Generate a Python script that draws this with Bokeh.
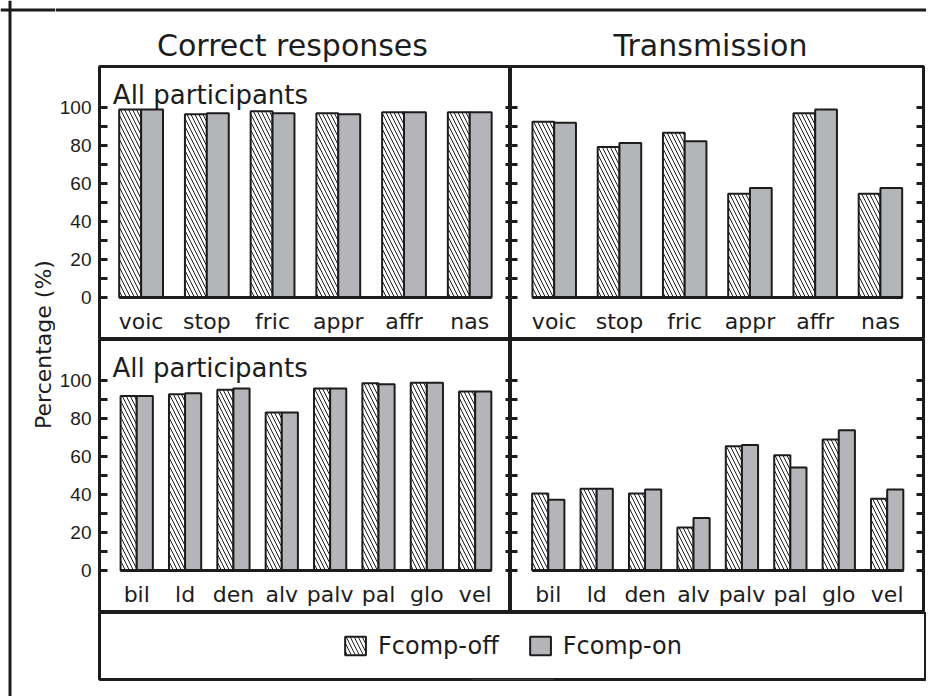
import math
from bokeh.plotting import figure
from bokeh.layouts import row, column
from bokeh.models import (Range1d, FixedTicker, LinearAxis, Label, Span, Legend,
                          LegendItem, ColumnDataSource, Spacer)
from bokeh.embed import file_html
from bokeh.resources import INLINE

# ---------------- data ----------------
manner_cats = ["voic", "stop", "fric", "appr", "affr", "nas"]
place_cats = ["bil", "ld", "den", "alv", "palv", "pal", "glo", "vel"]

manner_correct_off = [99.0, 96.5, 98.0, 97.0, 97.5, 97.5]
manner_correct_on = [99.0, 97.0, 97.0, 96.5, 97.5, 97.5]
manner_trans_off = [92.5, 79.2, 86.7, 54.6, 97.0, 54.6]
manner_trans_on = [92.0, 81.3, 82.2, 57.6, 99.0, 57.6]

place_correct_off = [91.9, 92.8, 95.1, 83.2, 95.8, 98.6, 98.9, 94.2]
place_correct_on = [91.9, 93.3, 95.8, 83.2, 95.8, 98.1, 98.9, 94.2]
place_trans_off = [40.6, 43.0, 40.6, 22.7, 65.4, 60.7, 68.9, 37.8]
place_trans_on = [37.2, 43.0, 42.7, 27.6, 66.1, 54.2, 73.8, 42.7]

y_major = [0, 20, 40, 60, 80, 100]
y_minor = [10, 30, 50, 70, 90]
series_labels = ["Fcomp-off", "Fcomp-on"]
col_titles = ["Correct responses", "Transmission"]
panel_note = "All participants"
y_title = "Percentage (%)"

# ---------------- style ----------------
INK = "#1c1c1c"
GRAY = "#b4b5b9"
TXT = "DejaVu Sans"
NUM = "Liberation Sans"
BAR_W = 1 / 3
Y_LO, Y_HI = -22.1, 121.6
HATCH = dict(hatch_pattern="left_diagonal_line", hatch_color=INK,
             hatch_scale=8, hatch_weight=1)


def bars(p, off, on):
    n = len(off)
    src = ColumnDataSource(dict(
        x_off=[i - BAR_W / 2 for i in range(n)],
        x_on=[i + BAR_W / 2 for i in range(n)],
        off=off, on=on))
    p.vbar(x="x_off", top="off", bottom=0, width=BAR_W, source=src,
           fill_color="white", line_color=INK, line_width=2, **HATCH)
    p.vbar(x="x_on", top="on", bottom=0, width=BAR_W, source=src,
           fill_color=GRAY, line_color=INK, line_width=2)


def y_axis(tick_in, show_labels):
    ax = LinearAxis(ticker=FixedTicker(ticks=y_major, minor_ticks=y_minor),
                    axis_line_color=None,
                    major_tick_in=tick_in, major_tick_out=0,
                    minor_tick_in=tick_in, minor_tick_out=0,
                    major_tick_line_width=3, minor_tick_line_width=3,
                    major_tick_line_color=INK, minor_tick_line_color=INK)
    if show_labels:
        ax.major_label_text_font = NUM
        ax.major_label_text_font_size = "19px"
        ax.major_label_text_color = INK
        ax.major_label_standoff = 8
    else:
        ax.major_label_overrides = {t: "" for t in y_major}
        ax.major_label_text_font_size = "0px"
        ax.major_label_standoff = 0
    return ax


def panel(cats, off, on, width, height, x_lo, x_hi, left_side, mb_top, note_x=None, note_y=None):
    n = len(cats)
    p = figure(width=width, height=height,
               x_range=Range1d(x_lo, x_hi), y_range=Range1d(Y_LO, Y_HI),
               output_backend="svg", toolbar_location=None,
               x_axis_location=None, y_axis_location=None,
               min_border_left=44 if left_side else 0,
               min_border_right=0 if left_side else 3,
               min_border_top=mb_top, min_border_bottom=0,
               outline_line_color=INK, outline_line_width=3,
               background_fill_color="white", border_fill_color="white")
    p.grid.visible = False
    bars(p, off, on)

    xax = LinearAxis(ticker=FixedTicker(ticks=list(range(n))),
                     major_label_overrides={i: c for i, c in enumerate(cats)},
                     fixed_location=0, bounds=(-BAR_W, n - 1 + BAR_W),
                     axis_line_width=3, axis_line_color=INK,
                     major_tick_line_color=None, minor_tick_line_color=None,
                     major_label_standoff=5,
                     major_label_text_font=TXT, major_label_text_font_size="22px",
                     major_label_text_color=INK)
    p.add_layout(xax, "below")

    if left_side:
        p.add_layout(y_axis(8, True), "left")
        p.add_layout(y_axis(5, False), "right")
        p.add_layout(Label(x=note_x, y=note_y, text=panel_note,
                           text_font=TXT, text_font_size="26px",
                           text_color=INK, text_baseline="alphabetic"))
    else:
        p.add_layout(y_axis(7, False), "left")
        p.add_layout(y_axis(7, False), "right")
    return p


# ---------------- panels ----------------
tl = panel(manner_cats, manner_correct_off, manner_correct_on, 455, 275,
           -0.633, 5.62, True, 2, note_x=-0.43, note_y=106.5)
tr = panel(manner_cats, manner_trans_off, manner_trans_on, 416, 275,
           -0.67, 5.66, False, 2)
bl = panel(place_cats, place_correct_off, place_correct_on, 455, 273,
           -0.77, 7.73, True, 0, note_x=-0.5, note_y=106.5)
br = panel(place_cats, place_trans_off, place_trans_on, 416, 273,
           -0.78, 7.75, False, 0)

# ---------------- gutter with y title + outer frame lines ----------------
gut = figure(width=55, height=696, x_range=Range1d(0, 55), y_range=Range1d(696, 0),
             output_backend="svg", toolbar_location=None,
             x_axis_location=None, y_axis_location=None,
             min_border=0, outline_line_color=None)
gut.grid.visible = False
gut.add_layout(Span(location=9.5, dimension="height", line_color=INK, line_width=3))
gut.add_layout(Span(location=9.5, dimension="width", line_color=INK, line_width=3))
gut.add_layout(Label(x=43, y=344, text=y_title, angle=math.pi / 2,
                     text_align="center", text_baseline="middle",
                     text_font=TXT, text_font_size="22px", text_color=INK))

# ---------------- title strip ----------------
tit = figure(width=871, height=64, x_range=Range1d(55, 926), y_range=Range1d(64, 0),
             output_backend="svg", toolbar_location=None,
             x_axis_location=None, y_axis_location=None,
             min_border=0, outline_line_color=None)
tit.grid.visible = False
tit.add_layout(Span(location=9.5, dimension="width", line_color=INK, line_width=3))
for cx, t in zip([292, 710], col_titles):
    tit.add_layout(Label(x=cx, y=45, text=t, text_align="center", text_baseline="middle",
                         text_font=TXT, text_font_size="30px", text_color=INK))

# ---------------- legend strip ----------------
leg = figure(width=829, height=77, x_range=Range1d(0, 1), y_range=Range1d(0, 1),
             output_backend="svg", toolbar_location=None,
             x_axis_location=None, y_axis_location=None,
             min_border_left=2, min_border_right=1, min_border_top=0, min_border_bottom=10,
             outline_line_color=INK, outline_line_width=3)
leg.grid.visible = False
# legend-only renderers: they sit below the strip's visible range, so only their swatches show
r_off = leg.vbar(x=[0.5], top=[-1], bottom=[-2], width=0.1, fill_color="white",
                 line_color=INK, line_width=2, **HATCH)
r_on = leg.vbar(x=[0.5], top=[-1], bottom=[-2], width=0.1, fill_color=GRAY,
                line_color=INK, line_width=2)
legend = Legend(items=[LegendItem(label=series_labels[0], renderers=[r_off]),
                       LegendItem(label=series_labels[1], renderers=[r_on])],
                orientation="horizontal", location="center",
                border_line_color=None, background_fill_alpha=0,
                glyph_width=26, glyph_height=23, label_height=23,
                label_text_font=TXT, label_text_font_size="24px", label_text_color=INK,
                spacing=28, label_standoff=10, padding=0, margin=0)
leg.add_layout(legend, "center")

main = column(tit, row(tl, tr), row(bl, br), row(Spacer(width=42, height=77), leg))
root = row(gut, main)

open("out.html", "w").write(file_html(root, INLINE))
